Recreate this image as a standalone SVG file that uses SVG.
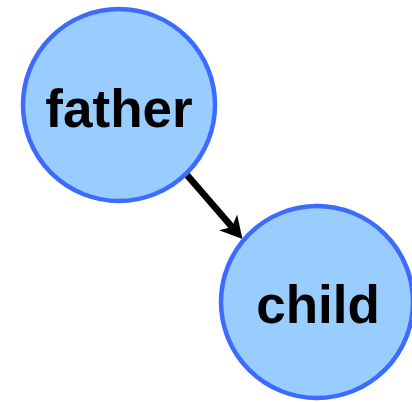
<svg xmlns="http://www.w3.org/2000/svg" width="412" height="402" viewBox="0 0 412 402">
<style>
.node circle{fill:#99ccff;stroke:#3d6bff;stroke-width:4.5}
.node text{font-family:"Liberation Sans",Arial,sans-serif;font-weight:bold;font-size:53px;fill:#000;text-anchor:middle}
.edge{stroke:#000;stroke-width:6.5;fill:none}
</style>
<defs>
<marker id="arr" markerUnits="userSpaceOnUse" markerWidth="40" markerHeight="40" refX="0" refY="0" viewBox="-10 -20 40 40" orient="auto" overflow="visible">
<path d="M16,0 L-6,-12 L0,0 L-6,12 Z" fill="#000"/>
</marker>
</defs>
<g id="connectors">
<line class="edge" x1="187" y1="175" x2="232" y2="227" marker-end="url(#arr)"/>
</g>
<g id="father" class="node">
<circle cx="119" cy="105" r="96"/>
<text x="119" y="127">father</text>
</g>
<g id="child" class="node">
<circle cx="317" cy="302" r="96"/>
<text x="318" y="323">child</text>
</g>
</svg>
